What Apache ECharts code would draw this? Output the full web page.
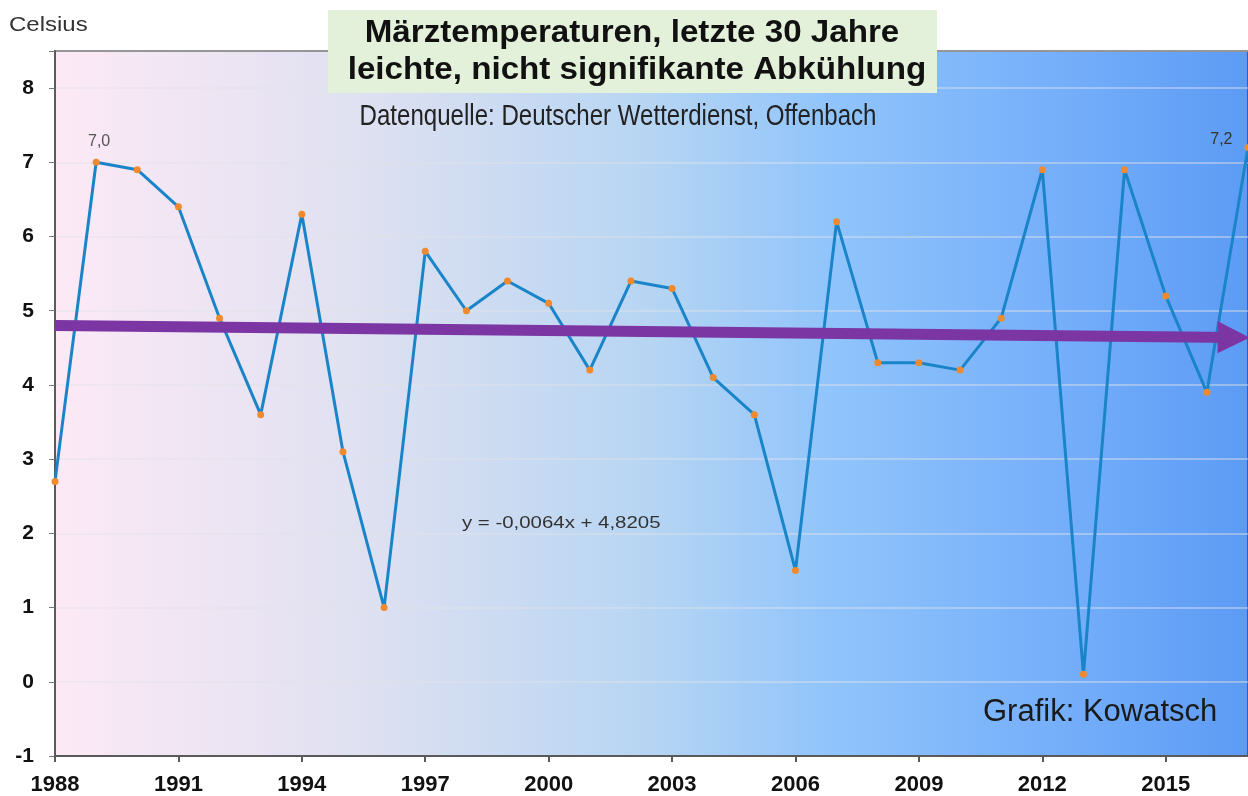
<!DOCTYPE html>
<html>
<head>
<meta charset="utf-8">
<script src="https://cdn.jsdelivr.net/npm/echarts@6/dist/echarts.min.js"></script>
<style>
    html, body {margin: 0; padding: 0; background: #fff;}
    #chart {width: 1248px; height: 796px;}
</style>
</head>
<body>
<div id="chart"></div>
<script>
// Märztemperaturen Deutschland 1988-2017
var years = [1988, 1989, 1990, 1991, 1992, 1993, 1994, 1995, 1996, 1997,
    1998, 1999, 2000, 2001, 2002, 2003, 2004, 2005, 2006, 2007,
    2008, 2009, 2010, 2011, 2012, 2013, 2014, 2015, 2016, 2017];
var temps = [2.7, 7.0, 6.9, 6.4, 4.9, 3.6, 6.3, 3.1, 1.0, 5.8,
    5.0, 5.4, 5.1, 4.2, 5.4, 5.3, 4.1, 3.6, 1.5, 6.2,
    4.3, 4.3, 4.2, 4.9, 6.9, 0.1, 6.9, 5.2, 3.9, 7.2];
// Trendpfeil (Anfang / Ende)
var trendStart = [1988, 4.80];
var trendEnd = [2016.65, 4.64];
// Beschriftete Punkte
var labeledYears = [1989, 2017];
var yTicks = [-1, 0, 1, 2, 3, 4, 5, 6, 7, 8];
var xTickStep = 3;

var chart = echarts.init(document.getElementById('chart'));

var lineData = [];
for (var i = 0; i < years.length; i++) {
    var item = {value: [years[i], temps[i]]};
    if (labeledYears.indexOf(years[i]) == 0) {
        item.label = {show: true, position: 'top', distance: 9, offset: [3, 0], color: '#555'};
    } else if (labeledYears.indexOf(years[i]) == 1) {
        item.label = {show: true, position: 'left', distance: 12, offset: [0, -8], color: '#333'};
    }
    lineData.push(item);
}

var fontName = 'Liberation Sans, Arial, sans-serif';
var trendColor = '#7b36a4';

var option = {
    animation: false,
    backgroundColor: '#ffffff',
    grid: {
        left: 55, right: -5, top: 51, bottom: 39,
        show: true,
        borderColor: '#5a5a5a',
        borderWidth: 2,
        backgroundColor: {
            type: 'linear', x: 0, y: 0, x2: 1, y2: 0,
            colorStops: [
                {offset: 0, color: '#fde9f6'},
                {offset: 0.25, color: '#e0e1f1'},
                {offset: 0.5, color: '#b6d5f3'},
                {offset: 0.65, color: '#90c4fb'},
                {offset: 0.85, color: '#74aefa'},
                {offset: 1, color: '#5c9bf5'}
            ]
        }
    },
    xAxis: {
        type: 'value',
        min: years[0],
        max: years[years.length - 1],
        interval: xTickStep,
        axisLine: {show: true, onZero: false, lineStyle: {color: '#5a5a5a', width: 2}},
        axisTick: {show: true, length: 6, lineStyle: {color: '#5a5a5a', width: 2}},
        splitLine: {show: false},
        axisLabel: {
            margin: 18,
            color: '#111',
            fontFamily: fontName,
            fontWeight: 'bold',
            fontSize: 22,
            showMaxLabel: false,
            formatter: function (v) {
                return (v - years[0]) % xTickStep == 0 ? String(v) : '';
            }
        }
    },
    yAxis: {
        type: 'value',
        min: yTicks[0],
        max: 8.5,
        interval: 1,
        axisLine: {show: true, lineStyle: {color: '#5a5a5a', width: 2}},
        axisTick: {show: true, length: 6, lineStyle: {color: '#777', width: 1}},
        splitLine: {show: true, lineStyle: {color: 'rgba(225,225,230,0.6)', width: 1.5}},
        axisLabel: {
            margin: 21,
            color: '#111',
            fontFamily: fontName,
            fontWeight: 'bold',
            fontSize: 21,
            formatter: function (v) {
                return yTicks.indexOf(v) >= 0 ? String(v) : '';
            }
        }
    },
    series: [
        {
            name: 'März',
            type: 'line',
            data: lineData,
            symbol: 'circle',
            symbolSize: 7,
            itemStyle: {color: '#f08a2c'},
            lineStyle: {color: '#1a84c9', width: 3},
            label: {
                show: false,
                fontFamily: fontName,
                fontSize: 16,
                formatter: function (p) {
                    return p.value[1].toFixed(1).replace('.', ',');
                }
            },
            z: 3
        },
        {
            name: 'Trend',
            type: 'line',
            data: [],
            z: 5,
            markLine: {
                silent: true,
                symbol: ['none', 'triangle'],
                symbolSize: 32,
                label: {show: false},
                itemStyle: {color: trendColor},
                lineStyle: {color: trendColor, width: 11, type: 'solid', opacity: 1},
                data: [[{coord: trendStart}, {coord: trendEnd}]]
            }
        }
    ],
    graphic: [
        {
            type: 'text', x: 9, y: 25, scaleX: 1.2,
            style: {text: 'Celsius', fill: '#333', font: '20px ' + fontName, textVerticalAlign: 'middle'}
        },
        {
            type: 'rect', shape: {x: 328, y: 10, width: 609, height: 83},
            style: {fill: '#e3f0da'}, z: 10
        },
        {
            type: 'text', x: 632, y: 33, z: 11, scaleX: 1.07,
            style: {
                text: 'Märztemperaturen, letzte 30 Jahre',
                fill: '#111', font: 'bold 31px ' + fontName,
                textAlign: 'center', textVerticalAlign: 'middle'
            }
        },
        {
            type: 'text', x: 637, y: 70, z: 11, scaleX: 1.07,
            style: {
                text: 'leichte, nicht signifikante Abkühlung',
                fill: '#111', font: 'bold 31px ' + fontName,
                textAlign: 'center', textVerticalAlign: 'middle'
            }
        },
        {
            type: 'text', x: 618, y: 117, z: 11, scaleX: 0.83,
            style: {
                text: 'Datenquelle: Deutscher Wetterdienst, Offenbach',
                fill: '#222', font: '29px ' + fontName,
                textAlign: 'center', textVerticalAlign: 'middle'
            }
        },
        {
            type: 'text', x: 462, y: 523, z: 11, scaleX: 1.2,
            style: {
                text: 'y = -0,0064x + 4,8205',
                fill: '#333', font: '17px ' + fontName,
                textVerticalAlign: 'middle'
            }
        },
        {
            type: 'text', x: 983, y: 712, z: 11,
            style: {
                text: 'Grafik: Kowatsch',
                fill: '#1a1a1a', font: '31px ' + fontName,
                textVerticalAlign: 'middle'
            }
        }
    ]
};
chart.setOption(option);
</script>
</body>
</html>
